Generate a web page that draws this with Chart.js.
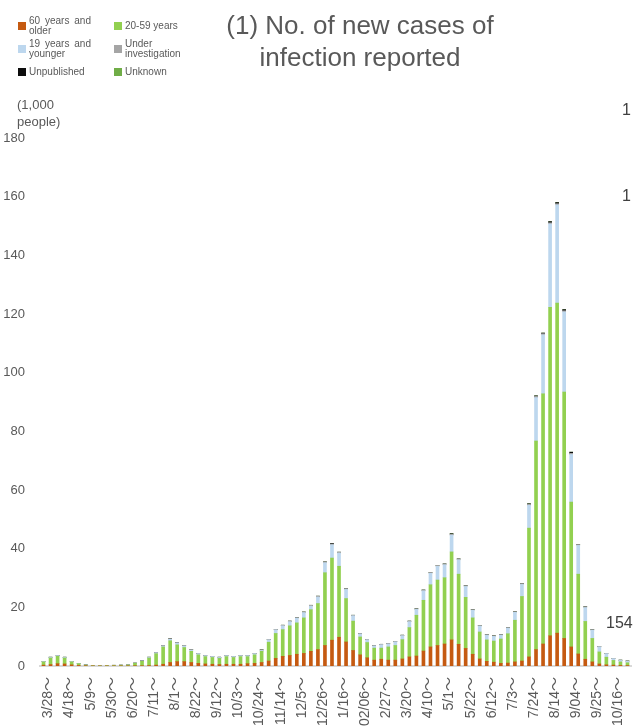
<!DOCTYPE html>
<html>
<head>
<meta charset="utf-8">
<script src="https://cdn.jsdelivr.net/npm/chart.js@4"></script>
<style>
  html, body { margin: 0; padding: 0; background: #fff; overflow: hidden; }
  body { width: 634px; height: 728px; position: relative; font-family: "Liberation Sans", Arial, sans-serif; color: #595959; }
  #chart { position: absolute; left: 0; top: 0; }
  .title { position: absolute; left: 200px; width: 320px; top: 9px; text-align: center; font-size: 26px; line-height: 32px; }
  .unit { position: absolute; left: 17px; top: 97px; font-size: 13px; line-height: 16.5px; }
  #legend { position: absolute; left: 18px; top: 14px; display: grid; grid-template-columns: 96px 96px; grid-auto-rows: 23px; }
  .item { display: flex; align-items: center; font-size: 10px; line-height: 10px; }
  .item i { width: 8px; height: 8px; margin-right: 3px; flex: none; }
  .item span { width: 62px; text-align: justify; text-align-last: left; }
  .note { position: absolute; color: #404040; font-size: 16px; line-height: 18px; white-space: nowrap; }
</style>
</head>
<body>
<canvas id="chart" width="634" height="728"></canvas>
<div class="title">(1) No. of new cases of<br>infection reported</div>
<div id="legend"></div>
<div class="unit">(1,000<br>people)</div>
<div class="note" style="left:622px; top:101px;">1</div>
<div class="note" style="left:622px; top:187px;">1</div>
<div class="note" style="left:606px; top:614px;">154</div>
<script>
// week starting dates (2020/3/28 ... 2021/10/30)
const weekStarts = [
  '3/28','4/4','4/11','4/18','4/25','5/2','5/9','5/16','5/23','5/30','6/6','6/13','6/20','6/27',
  '7/4','7/11','7/18','7/25','8/1','8/8','8/15','8/22','8/29','9/5','9/12','9/19','9/26',
  '10/3','10/10','10/17','10/24','10/31','11/7','11/14','11/21','11/28','12/5','12/12','12/19','12/26',
  '1/2','1/9','1/16','1/23','1/30','2/6','2/13','2/20','2/27','3/6','3/13','3/20','3/27',
  '4/3','4/10','4/17','4/24','5/1','5/8','5/15','5/22','5/29','6/5','6/12','6/19','6/26',
  '7/3','7/10','7/17','7/24','7/31','8/7','8/14','8/21','8/28','9/4','9/11','9/18','9/25',
  '10/2','10/9','10/16','10/23','10/30'
];

// labels shown on the axis (every third week)
const tickLabels = [
  '3/28～','4/18～','5/9～','5/30～','6/20～','7/11～','8/1～','8/22～','9/12～','10/3～',
  '10/24～','11/14～','12/5～','12/26～','1/16～','02/06～','2/27～','3/20～','4/10～','5/1～',
  '5/22～','6/12～','7/3～','7/24～','8/14～','9/04～','9/25～','10/16～'
];

// thousand people per week
const age60plus = [
  0.3,0.5,0.8,0.7,0.4,0.2,0.1,0.05,0.03,0.04,0.04,0.05,0.05,0.1,
  0.1,0.15,0.3,0.6,1.2,1.5,1.5,1.2,0.9,0.7,0.6,0.5,0.6,
  0.6,0.6,0.8,0.9,1.2,1.7,2.6,3.3,3.6,4.0,4.3,5.0,5.6,
  7.0,8.8,9.8,8.2,5.3,3.8,2.8,2.0,2.3,2.0,2.0,2.4,3.1,
  3.4,5.1,6.5,7.0,7.5,8.9,7.4,6.0,4.0,2.4,1.6,1.3,0.9,
  1.0,1.4,1.7,3.1,5.6,7.5,10.3,11.2,9.4,6.5,4.1,2.3,1.4,
  0.7,0.4,0.3,0.2,0.15
];
const age20to59 = [
  1.1,2.2,2.5,2.0,1.0,0.6,0.2,0.1,0.08,0.12,0.15,0.2,0.28,0.8,
  1.5,2.55,3.9,5.9,7.4,5.7,4.8,3.8,2.9,2.5,2.3,2.1,2.6,
  2.3,2.6,2.4,2.9,3.8,6.4,8.5,9.1,10.1,10.7,12.1,14.2,15.7,
  24.8,28.0,24.2,14.8,10.0,6.1,5.2,4.1,3.8,4.5,5.0,6.6,10.0,
  13.9,17.3,21.2,22.3,22.6,30.0,23.9,17.4,12.4,9.2,7.3,7.2,8.3,
  10.0,14.2,22.0,43.9,71.1,85.3,112.0,112.5,84.0,49.4,27.2,12.9,8.0,
  4.1,2.6,1.6,1.2,0.95
];
const age19under = [
  0.1,0.2,0.2,0.2,0.1,0.05,0.05,0.03,0.02,0.02,0.03,0.03,0.04,0.05,
  0.1,0.2,0.3,0.3,0.5,0.6,0.5,0.4,0.4,0.3,0.3,0.3,0.3,
  0.3,0.3,0.3,0.4,0.3,0.8,1.2,1.3,1.4,1.6,1.8,1.2,2.2,
  3.4,4.5,4.5,3.1,1.8,1.0,0.9,0.7,1.1,1.0,1.2,1.3,2.0,
  2.0,3.2,3.9,4.7,4.4,5.7,4.9,3.7,2.6,2.0,1.6,1.6,1.3,
  1.9,2.7,4.1,7.8,14.8,20.1,28.4,33.5,27.3,16.2,9.8,4.7,2.8,
  1.7,1.2,0.6,0.5,0.5
];
const underInvestigation = [
  0.1,0.1,0.1,0.1,0.1,0.05,0.05,0.02,0.02,0.02,0.03,0.02,0.03,0.05,
  0.1,0.1,0.1,0.2,0.2,0.2,0.2,0.2,0.1,0.1,0.1,0.1,0.1,
  0.1,0.1,0.1,0.1,0.2,0.2,0.2,0.2,0.2,0.2,0.2,0.3,0.3,
  0.3,0.3,0.3,0.3,0.2,0.2,0.2,0.2,0.2,0.2,0.2,0.2,0.2,
  0.2,0.3,0.3,0.3,0.3,0.3,0.3,0.3,0.2,0.2,0.2,0.2,0.2,
  0.2,0.2,0.3,0.3,0.4,0.4,0.4,0.4,0.4,0.4,0.3,0.3,0.2,
  0.2,0.1,0.1,0.1,0.1
];
const unpublished = [
  0,0,0,0,0,0,0,0,0,0,0,0,0,0,
  0,0,0,0,0,0,0,0,0,0,0,0,0,
  0,0,0,0,0,0,0,0,0,0,0,0,0,
  0,0.2,0,0,0,0,0,0,0,0,0,0,0,
  0,0,0,0,0,0.2,0,0,0,0,0,0,0,
  0,0,0,0.2,0.2,0.2,0.4,0.4,0.4,0.4,0,0,0,
  0,0,0,0,0
];
const unknown = [
  0,0,0,0,0,0,0,0,0,0,0,0,0,0,
  0,0,0,0,0,0,0,0,0,0,0,0,0,
  0,0,0,0,0,0,0,0,0,0,0,0,0,
  0,0,0,0,0,0,0,0,0,0,0,0,0,
  0,0,0,0,0,0,0,0,0,0,0,0,0,
  0,0,0,0,0,0,0,0,0,0,0,0,0,
  0,0,0,0,0
];

const fontFamily = '"Liberation Sans", Arial, "Noto Sans CJK JP", sans-serif';

const datasets = [
  { label: '60 years and older', data: age60plus, backgroundColor: '#c55a11' },
  { label: '20-59 years', data: age20to59, backgroundColor: '#92d050' },
  { label: '19 years and younger', data: age19under, backgroundColor: '#bdd7ee' },
  { label: 'Under investigation', data: underInvestigation, backgroundColor: '#a5a5a5' },
  { label: 'Unpublished', data: unpublished, backgroundColor: '#0d0d0d' },
  { label: 'Unknown', data: unknown, backgroundColor: '#70ad47' }
];

// legend built from the datasets
const legendEl = document.getElementById('legend');
datasets.forEach(function (ds) {
  const item = document.createElement('div');
  item.className = 'item';
  item.innerHTML = '<i style="background:' + ds.backgroundColor + '"></i><span>' + ds.label + '</span>';
  legendEl.appendChild(item);
});

new Chart(document.getElementById('chart').getContext('2d'), {
  type: 'bar',
  data: { labels: weekStarts, datasets: datasets },
  options: {
    responsive: false,
    animation: false,
    layout: { padding: { top: 138, right: 3, left: 0, bottom: 0 } },
    datasets: { bar: { barThickness: 3 } },
    plugins: { legend: { display: false }, tooltip: { enabled: false } },
    scales: {
      x: {
        stacked: true,
        grid: { display: false, drawTicks: false },
        border: { color: '#d9d9d9', width: 2 },
        ticks: {
          autoSkip: false, maxRotation: 90, minRotation: 90, padding: 11, labelOffset: 5,
          color: '#595959', font: { size: 14, family: fontFamily },
          callback: function (v, i) { return i % 3 === 0 ? tickLabels[i / 3] : ''; }
        },
        afterFit: function (s) { s.height = 62; s.paddingLeft = 0; s.paddingRight = 0; }
      },
      y: {
        stacked: true, min: 0, max: 180,
        grid: { display: false, drawTicks: false },
        border: { display: false },
        ticks: { stepSize: 20, padding: 15, color: '#595959', font: { size: 13, family: fontFamily } },
        afterFit: function (s) { s.width = 40; }
      }
    }
  }
});
</script>
</body>
</html>
